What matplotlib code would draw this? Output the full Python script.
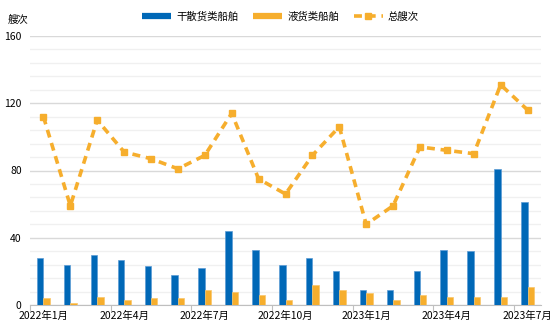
import matplotlib.pyplot as plt
from matplotlib.lines import Line2D
import numpy as np

plt.rcParams['font.family'] = ['Noto Sans CJK SC', 'DejaVu Sans']

months = ['2022年1月', '2022年2月', '2022年3月', '2022年4月', '2022年5月', '2022年6月',
          '2022年7月', '2022年8月', '2022年9月', '2022年10月', '2022年11月', '2022年12月',
          '2023年1月', '2023年2月', '2023年3月', '2023年4月', '2023年5月', '2023年6月', '2023年7月']
dry = [28, 24, 30, 27, 23, 18, 22, 44, 33, 24, 28, 20, 9, 9, 20, 33, 32, 81, 61]
liquid = [4, 1, 5, 3, 4, 4, 9, 8, 6, 3, 12, 9, 7, 3, 6, 5, 5, 5, 11]
total = [112, 59, 110, 91, 87, 81, 89, 114, 75, 66, 89, 106, 48, 59, 94, 92, 90, 131, 116]

blue = '#0068B7'
orange = '#F6AE2D'

fig = plt.figure(figsize=(5.54, 3.33), dpi=100)
ax = fig.add_axes([30 / 554, 1 - 305 / 333, 511 / 554, 269 / 333])

x = np.arange(len(months))
w = 0.24
ax.bar(x - w / 2, dry, w, color=blue, edgecolor='#5b9bd5', linewidth=0.5, zorder=3)
ax.bar(x + w / 2, liquid, w, color=orange, edgecolor='#f9c66a', linewidth=0.5, zorder=3)
ax.plot(x, total, color=orange, linestyle=(0, (2.2, 1.6)), linewidth=2.6, marker='s',
        markersize=5, zorder=4)

ax.set_xlim(-0.5, len(months) - 0.5)
ax.set_ylim(0, 160)
ax.set_yticks([0, 40, 80, 120, 160])
ax.set_yticks(np.arange(0, 161, 8), minor=True)
ax.grid(axis='y', which='major', color='#d9d9d9', linewidth=1, zorder=0)
ax.grid(axis='y', which='minor', color='#f0f0f0', linewidth=1, zorder=0)
ax.tick_params(axis='y', which='both', length=0, labelsize=7.5, pad=6)

ax.set_xticks(x[::3] - 0.5)
ax.set_xticks(x[::3], minor=True)
ax.set_xticklabels([])
ax.set_xticklabels([months[i] for i in range(0, len(months), 3)], minor=True)
ax.tick_params(axis='x', which='major', length=4, color='#bfbfbf')
ax.tick_params(axis='x', which='minor', length=0, labelsize=7.5, pad=4)

for s in ['top', 'right', 'left']:
    ax.spines[s].set_visible(False)
ax.spines['bottom'].set_color('#bfbfbf')

fig.text(8 / 554, 1 - 20 / 333, '艘次', fontsize=7.5, va='center', ha='left')

handles = [
    Line2D([], [], color=blue, linewidth=4.5, solid_capstyle='butt'),
    Line2D([], [], color=orange, linewidth=4.5, solid_capstyle='butt'),
    Line2D([], [], color=orange, linewidth=2.6, linestyle=(0, (2.2, 1.6)), marker='s', markersize=5),
]
ax.legend(handles, ['干散货类船舶', '液货类船舶', '总艘次'], loc='upper center',
          bbox_to_anchor=(0.49, 1.127), ncol=3, frameon=False,
          fontsize=7.5, handlelength=2.8, columnspacing=1.4, handletextpad=0.5)

fig.savefig('out.png', dpi=100)
